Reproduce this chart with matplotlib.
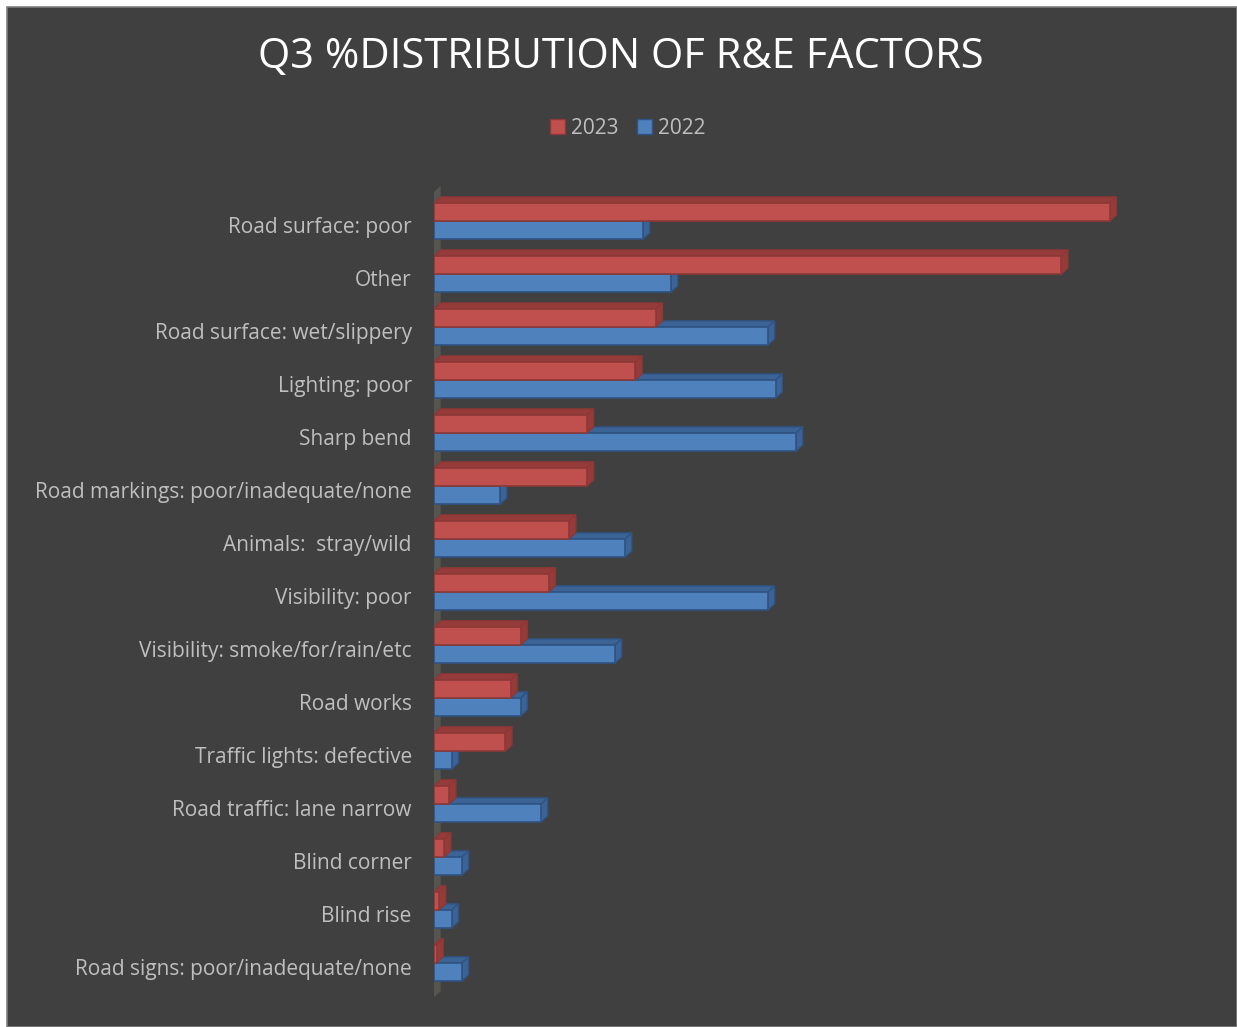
import numpy as np
import matplotlib.pyplot as plt
from matplotlib.patches import Polygon, Patch

plt.rcParams['font.family'] = ['Open Sans', 'DejaVu Sans']

categories = ['Road surface: poor', 'Other', 'Road surface: wet/slippery',
              'Lighting: poor', 'Sharp bend', 'Road markings: poor/inadequate/none',
              'Animals:  stray/wild', 'Visibility: poor', 'Visibility: smoke/for/rain/etc',
              'Road works', 'Traffic lights: defective', 'Road traffic: lane narrow',
              'Blind corner', 'Blind rise', 'Road signs: poor/inadequate/none']
pct_2023 = [26.5, 24.6, 8.7, 7.9, 6.0, 6.0, 5.3, 4.5, 3.4, 3.0, 2.8, 0.6, 0.4, 0.2, 0.1]
pct_2022 = [8.2, 9.3, 13.1, 13.4, 14.2, 2.6, 7.5, 13.1, 7.1, 3.4, 0.7, 4.2, 1.1, 0.7, 1.1]

bg = '#404040'
red_face, red_edge, red_dark = '#C0504D', '#8C3836', '#953B39'
blue_face, blue_edge, blue_dark = '#4F81BD', '#2F5383', '#3B6395'

fig = plt.figure(figsize=(12.37, 10.27), dpi=100)
fig.patch.set_facecolor('white')
# chart area inside the thin white margin
fig.patches.append(plt.Rectangle((7 / 1237, 0), 1 - 7 / 1237, 1 - 7 / 1027,
                                 transform=fig.transFigure, facecolor=bg,
                                 edgecolor='#7f7f7f', linewidth=1.2, zorder=-1))

ax = fig.add_axes([434 / 1237, 1 - 1000 / 1027, 765 / 1237, 820 / 1027])
ax.set_facecolor('none')
for s in ax.spines.values():
    s.set_visible(False)

n = len(categories)
y = np.arange(n)
h = 0.34
dx, dy = 0.26, 0.115   # depth of the 3d bars in data units

ax.set_xlim(0, 30)
ax.set_ylim(14.70, -0.774)

# side wall of the 3d plot
ax.add_patch(Polygon([(0, n - 0.35), (dx, n - 0.35 - dy), (dx, -0.55 - dy), (0, -0.55)],
                     closed=True, facecolor='#56554f', edgecolor='none', zorder=1))


def bar3d(yc, v, face, edge, dark):
    top, bot = yc - h / 2, yc + h / 2
    ax.add_patch(Polygon([(0, top), (v, top), (v + dx, top - dy), (dx, top - dy)],
                         closed=True, facecolor=dark, edgecolor=edge, lw=1, zorder=2))
    ax.add_patch(Polygon([(v, top), (v + dx, top - dy), (v + dx, bot - dy), (v, bot)],
                         closed=True, facecolor=dark, edgecolor=edge, lw=1, zorder=2))
    ax.barh(yc, v, height=h, color=face, edgecolor=edge, lw=1.2, zorder=3)


for i in range(n):
    bar3d(y[i] + h / 2, pct_2022[i], blue_face, blue_edge, blue_dark)
for i in range(n):
    bar3d(y[i] - h / 2, pct_2023[i], red_face, red_edge, red_dark)

ax.set_xticks([])
ax.set_yticks(y + 0.08)
ax.set_yticklabels(categories, color='#BFBFBF', fontsize=15)
ax.tick_params(axis='y', length=0, pad=16)

fig.text(0.5 + 2 / 1237, 1 - 57 / 1027, 'Q3 %DISTRIBUTION OF R&E FACTORS',
         ha='center', va='center', color='white', fontsize=30)

handles = [Patch(facecolor=red_face, edgecolor=red_edge, label='2023'),
           Patch(facecolor=blue_face, edgecolor=blue_edge, label='2022')]
leg = fig.legend(handles=handles, loc='center', bbox_to_anchor=(628 / 1237, 1 - 128 / 1027),
                 ncol=2, frameon=False, fontsize=15, handlelength=0.7, handleheight=0.7,
                 handletextpad=0.3, columnspacing=0.9)
for t in leg.get_texts():
    t.set_color('#BFBFBF')

fig.savefig('out.png', dpi=100, facecolor=fig.get_facecolor())
